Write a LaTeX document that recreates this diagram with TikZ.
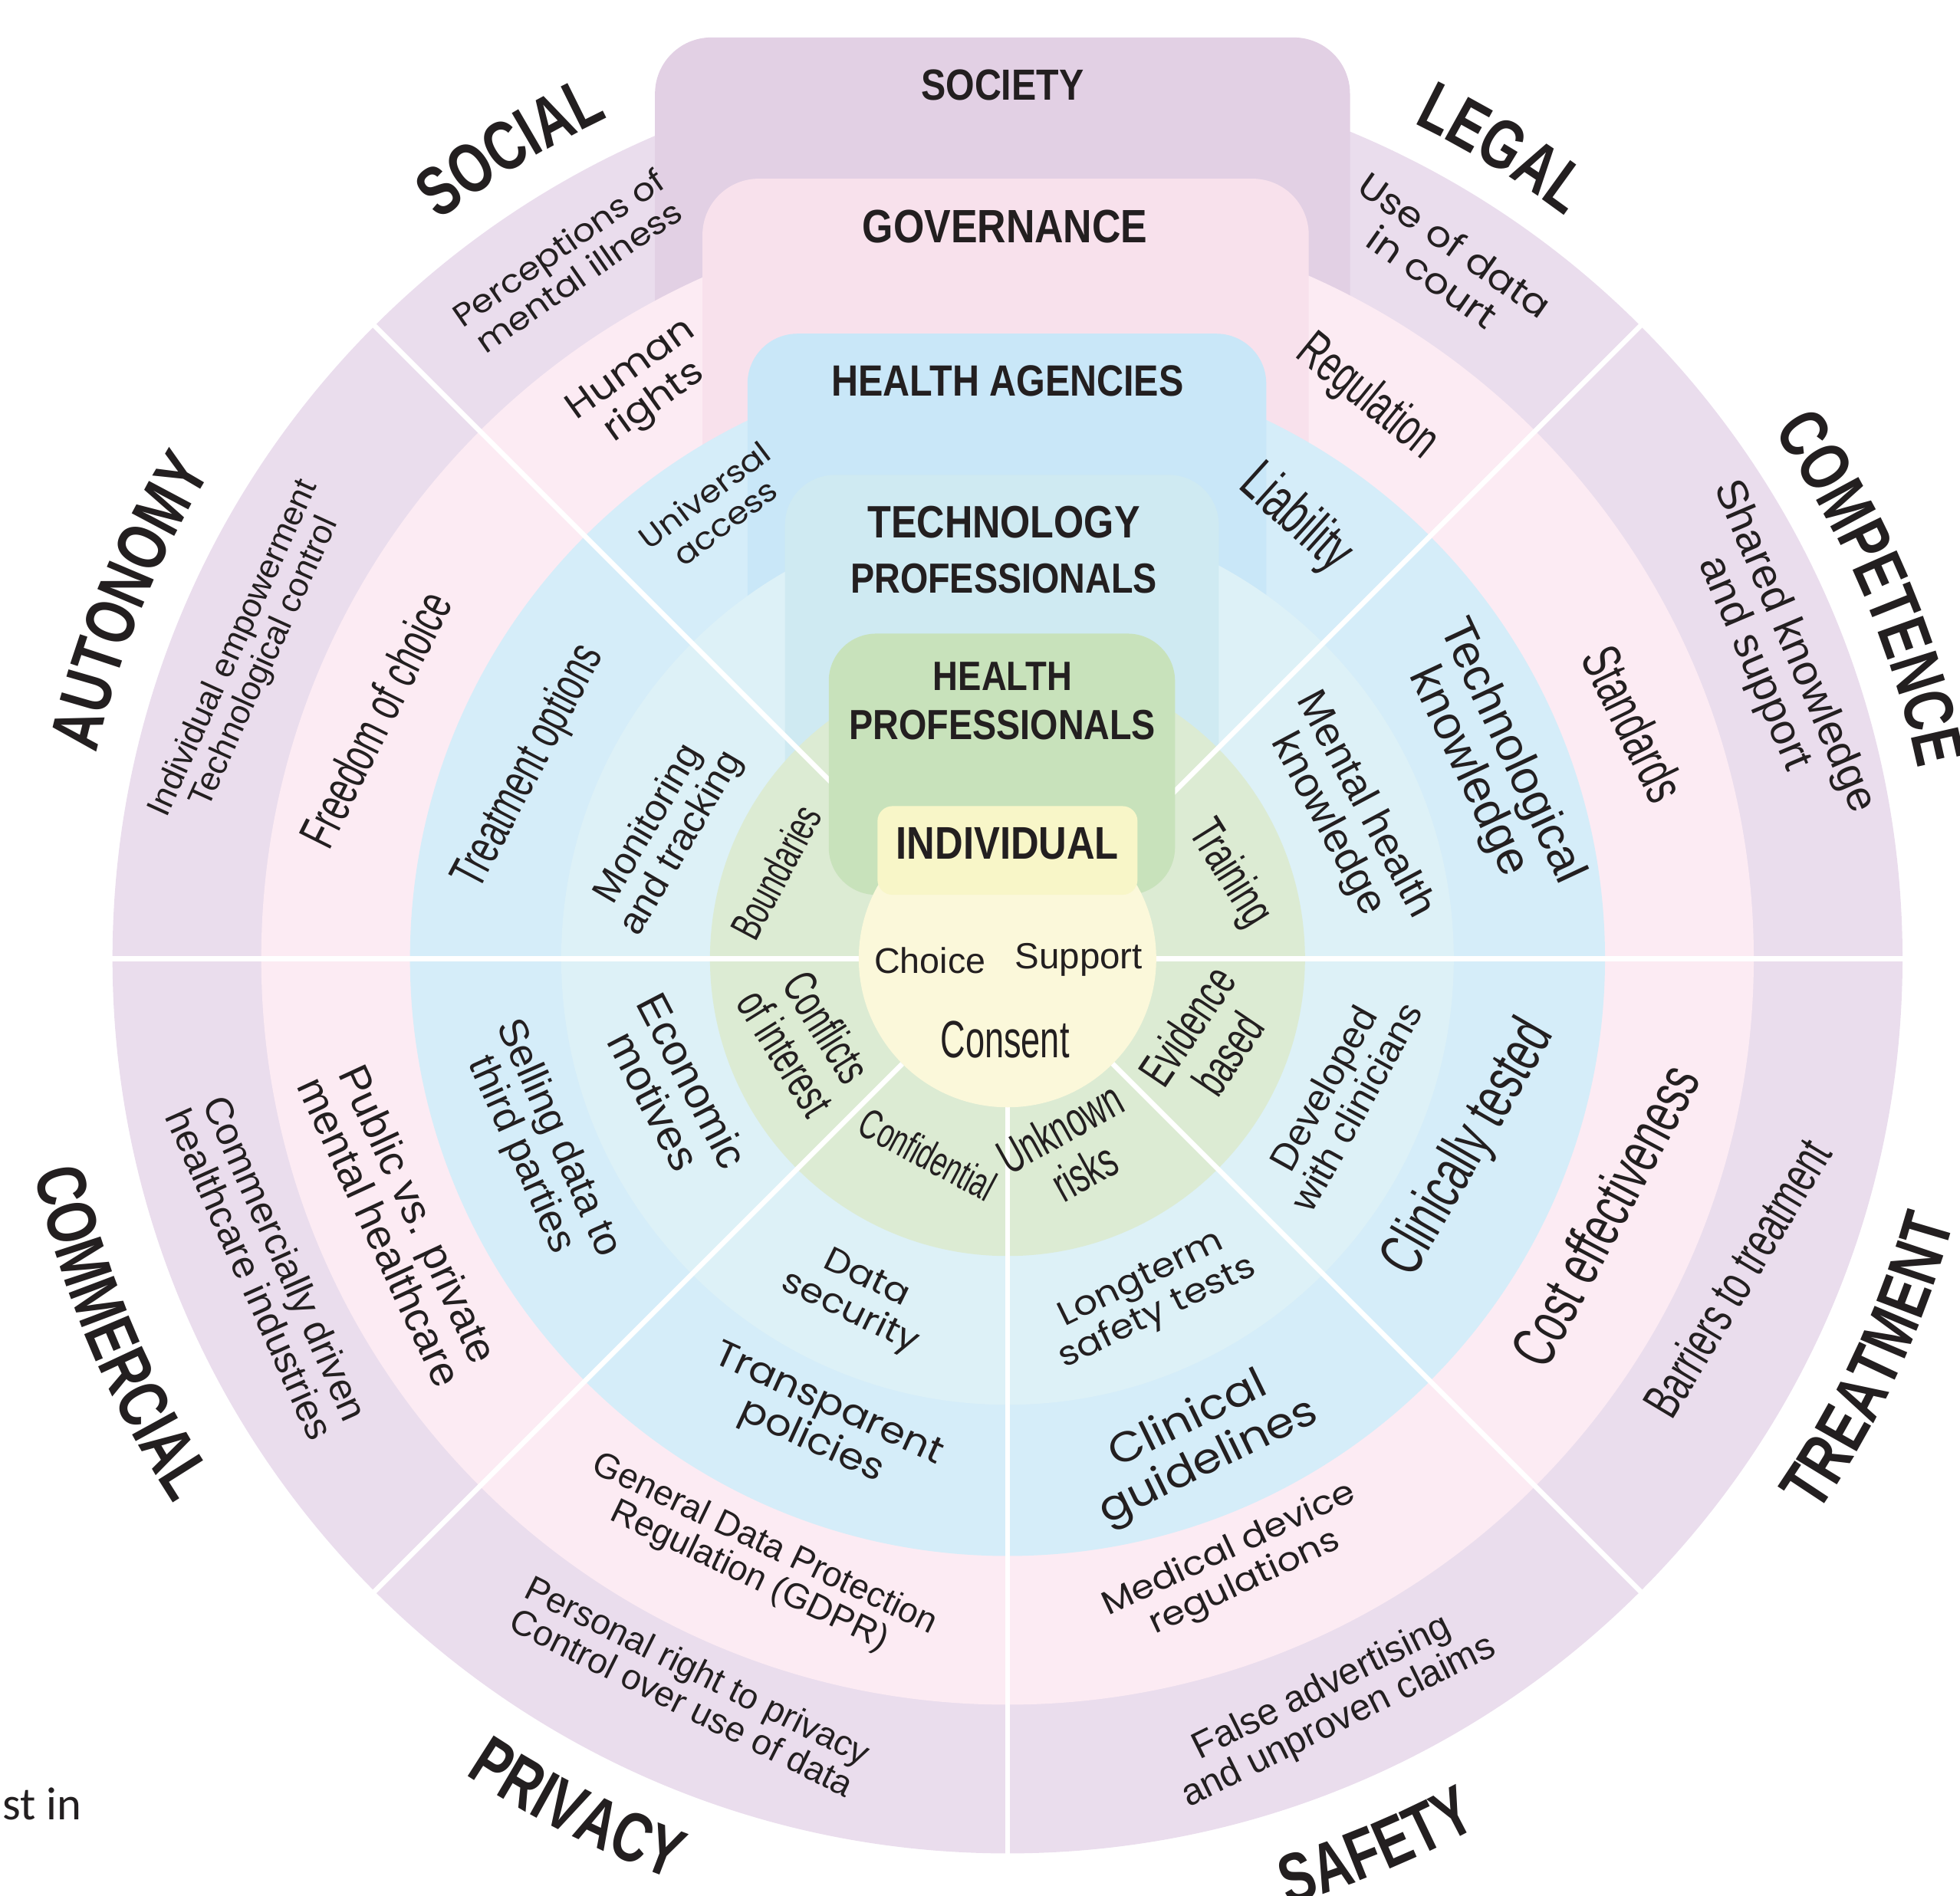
\documentclass[tikz,border=0pt]{standalone}
\usepackage{fontspec}
\usepackage{graphicx}
\setmainfont{Liberation Sans}
\newfontfamily\catfont[FakeStretch=0.75]{Liberation Sans}
\newfontfamily\titlefont[FakeStretch=0.85]{Liberation Sans}
\newfontfamily\gothic[FakeStretch=1.1]{Poppins}
\newfontfamily\helv{Liberation Sans}
\newfontfamily\cond[FakeStretch=0.66]{Liberation Sans}
\newfontfamily\calib{Carlito}
\usetikzlibrary{decorations.text}
\definecolor{cOuter}{HTML}{EADDED}
\definecolor{cSoc}{HTML}{E2D0E4}
\definecolor{cPink}{HTML}{FCEBF3}
\definecolor{cGov}{HTML}{F8E1EC}
\definecolor{cBlue}{HTML}{D5EDF9}
\definecolor{cHA}{HTML}{C9E7F8}
\definecolor{cLBlue}{HTML}{DDF1F7}
\definecolor{cTech}{HTML}{CFEAF2}
\definecolor{cGreen}{HTML}{DCEBD3}
\definecolor{cHP}{HTML}{C8E2BB}
\definecolor{cYellow}{HTML}{FBF8DA}
\definecolor{cInd}{HTML}{F8F6C8}
\definecolor{ink}{HTML}{231F20}
\newcommand\gfont{\gothic\fontsize{20}{22}\selectfont}
\newcommand\hfont{\helv\fontsize{20}{19}\selectfont}
\newcommand\cfont{\cond\fontsize{20}{20}\selectfont}
\newcommand\rl[7]{\node[lab,rotate=#4] (#1) at (#2:#3) {\resizebox{#5pt}{!}{#6\begin{tabular}{@{}c@{}}#7\end{tabular}}};}
\newcommand\catlab[4]{\path[decorate,decoration={text along path,text align=center,text color=ink,text={|\catfont\bfseries\fontsize{56}{60}\selectfont|#4}}] (#1:#3) arc[start angle=#1,end angle=#2,radius=#3];}
\newcommand\ttl[4]{\node[lab] (#1) at (#2) {\resizebox{#3pt}{!}{\titlefont\bfseries #4}};}
\begin{document}
\begin{tikzpicture}[x=1pt,y=1pt,
  lab/.style={inner sep=0pt,text=ink,anchor=center},
  sepline/.style={white,line width=4pt}]
\useasboundingbox (-806,-750) rectangle (762,767);
\clip (-806,-750) rectangle (762,767);
% rings and boxes
\fill[cOuter] (0,0) circle[radius=716];
\fill[cSoc,rounded corners=45pt] (-282,0) rectangle (274,737);
\fill[cPink] (0,0) circle[radius=597];
\fill[cGov,rounded corners=45pt] (-244,0) rectangle (241,624);
\fill[cBlue] (0,0) circle[radius=478];
\fill[cHA,rounded corners=40pt] (-208,0) rectangle (207,500);
\fill[cLBlue] (0,0) circle[radius=357];
\fill[cTech,rounded corners=40pt] (-178,0) rectangle (169,387);
\fill[cGreen] (0,0) circle[radius=238];
\foreach \a in {0,45,135,180,225,270,315} \draw[sepline] (\a:119) -- (\a:722);
\fill[cHP,rounded corners=38pt] (-143,51) rectangle (134,260);
\fill[cYellow] (0,0) circle[radius=119];
\fill[cInd,rounded corners=12pt] (-104,51) rectangle (104,122);
% box titles
\ttl{society}{-4,699}{130}{SOCIETY}
\ttl{governance}{-2,586}{228}{GOVERNANCE}
\ttl{agencies}{0,462}{282}{HEALTH AGENCIES}
\ttl{techa}{-3,349}{218}{TECHNOLOGY}
\ttl{techb}{-3,304}{245}{PROFESSIONALS}
\ttl{hpa}{-4,226}{111}{HEALTH}
\ttl{hpb}{-4,187}{245}{PROFESSIONALS}
\ttl{individual}{0,92}{178}{INDIVIDUAL}
% centre
\node[lab,anchor=base] (choice) at (-62,-12) {\resizebox{89pt}{!}{\helv Choice}};
\node[lab,anchor=base] (support) at (57,-8) {\resizebox{102pt}{!}{\helv Support}};
\node[lab,anchor=base] (consent) at (-2,-79) {\resizebox{103pt}{!}{\cond Consent}};
% SOCIAL
\rl{perc}{122.2}{655}{34.7}{200}{\gfont}{Perceptions of\\mental illness}
\rl{human}{122.5}{542}{35.5}{118}{\gfont}{Human\\rights}
\rl{univ}{123}{426}{37}{124}{\gfont}{Universal\\access}
% LEGAL
\rl{court}{58}{654}{-35}{180}{\gfont}{Use of data\\in court}
\rl{regul}{57.4}{531}{-39}{132}{\cfont}{Regulation}
\rl{liab}{56.8}{418}{-42}{103}{\cfont}{Liability}
% COMPETENCE
\rl{shared}{21.6}{658}{-67}{285}{\hfont}{Shared knowledge\\and support}
\rl{stand}{20.5}{529}{-64}{132}{\cfont}{Standards}
\rl{techk}{22.2}{415}{-65}{228}{\hfont}{Technological\\knowledge}
\rl{mentalk}{23}{293}{-62}{200}{\hfont}{Mental health\\knowledge}
\rl{train}{20.8}{188}{-58}{92}{\cfont}{Training}
% AUTONOMY
\rl{indiv}{158.2}{652}{65.6}{292}{\hfont}{Individual empowerment\\Technological control}
\rl{freedom}{159.3}{535}{63.4}{222}{\cfont}{Freedom of choice}
\rl{treatopt}{158.2}{410}{62.2}{214}{\cfont}{Treatment options}
\rl{monit}{160}{290}{59.7}{165}{\hfont}{Monitoring\\and tracking}
\rl{bound}{159.7}{193}{62}{115}{\cfont}{Boundaries}
% COMMERCIAL
\rl{commdriven}{-157.4}{645}{-66}{286}{\hfont}{Commercially driven\\healthcare industries}
\rl{public}{-156.5}{535}{-65.2}{268}{\hfont}{Public vs. private\\mental healthcare}
\rl{selling}{-158.1}{405}{-66}{204}{\hfont}{Selling data to\\third parties}
\rl{econ}{-158.3}{292}{-62.6}{152}{\hfont}{Economic\\motives}
\rl{conflicts}{-157.7}{179}{-58}{110}{\cfont}{Conflicts\\of interest}
% PRIVACY
\rl{personal}{-113.6}{639}{-26.5}{304}{\hfont}{Personal right to privacy\\Control over use of data}
\rl{gdpr}{-112.6}{523}{-25.6}{302}{\hfont}{General Data Protection\\Regulation (GDPR)}
\rl{transp}{-112}{402}{-24.5}{198}{\gfont}{Transparent\\policies}
\rl{datasec}{-113.9}{296}{-26}{118}{\gfont}{Data\\security}
\rl{confid}{-112.3}{174}{-28}{118}{\cfont}{Confidential}
% SAFETY
\rl{falseadv}{-66.6}{652}{26.4}{276}{\hfont}{False advertising\\and unproven claims}
\rl{meddev}{-69.3}{521}{25}{220}{\gfont}{Medical device\\regulations}
\rl{clinguide}{-68.4}{417}{26}{190}{\gfont}{Clinical\\guidelines}
\rl{longterm}{-67.2}{294}{26}{172}{\gfont}{Longterm\\safety tests}
\rl{unknown}{-71}{167}{29}{108}{\cfont}{Unknown\\risks}
% TREATMENT
\rl{barriers}{-23.7}{643}{59}{250}{\cfont}{Barriers to treatment}
\rl{cost}{-23.3}{527}{62}{264}{\cfont}{Cost effectiveness}
\rl{clintest}{-22.4}{402}{60}{226}{\cfont}{Clinically tested}
\rl{developed}{-22.8}{292}{61}{185}{\hfont}{Developed\\with clinicians}
\rl{evidence}{-22.5}{178}{56}{105}{\cfont}{Evidence\\based}
% category labels
\catlab{156.5}{86.5}{745}{SOCIAL}
\catlab{93.6}{23.6}{743}{LEGAL}
\catlab{58.2}{-11.8}{744}{COMPETENCE}
\catlab{192.9}{122.9}{747}{AUTONOMY}
\catlab{-192.2}{-122.2}{797}{COMMERCIAL}
\catlab{-151.8}{-81.8}{784}{PRIVACY}
\catlab{-102.5}{-32.5}{790}{SAFETY}
\catlab{-60}{10}{786}{TREATMENT}
% stray text
\node[lab,anchor=base west] (stin) at (-804,-689) {\resizebox{63pt}{!}{\calib st in}};
\end{tikzpicture}
\end{document}
